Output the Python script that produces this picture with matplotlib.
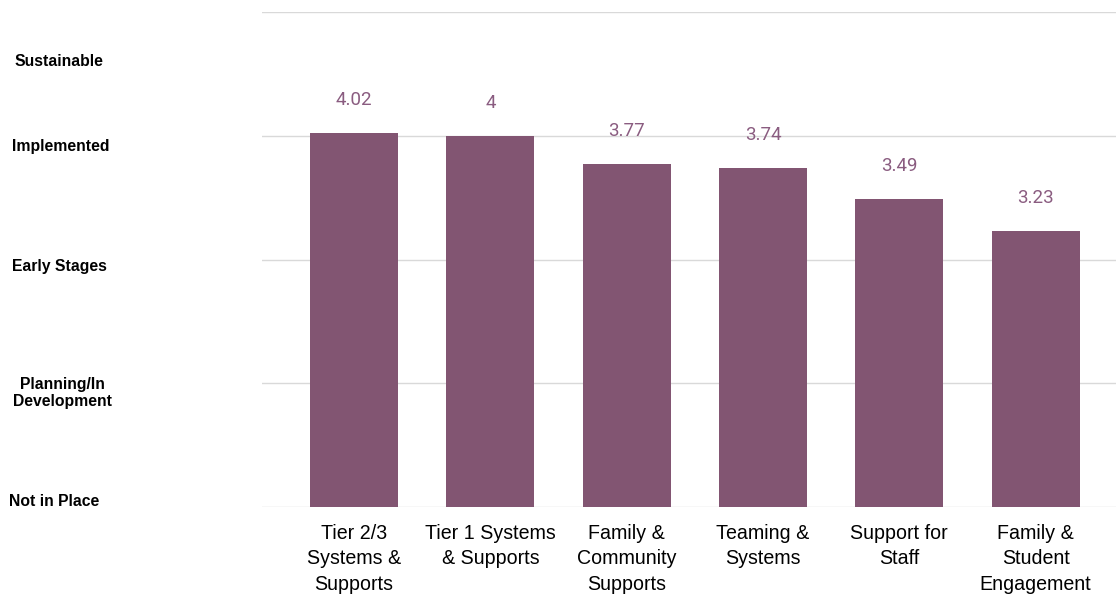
import matplotlib.pyplot as plt

categories = [
    "Tier 2/3\nSystems &\nSupports",
    "Tier 1 Systems\n& Supports",
    "Family &\nCommunity\nSupports",
    "Teaming &\nSystems",
    "Support for\nStaff",
    "Family &\nStudent\nEngagement",
]
scores = [4.02, 4, 3.77, 3.74, 3.49, 3.23]
score_labels = ["4.02", "4", "3.77", "3.74", "3.49", "3.23"]

# rubric levels shown down the left side
levels = ["Sustainable", "Implemented", "Early Stages", "Planning/In\nDevelopment", "Not in Place"]
level_pos = [(59, 62), (61, 147), (59, 266), (62, 393), (54, 502)]  # pixel centres

bar_color = "#825572"
label_color = "#8a5c80"

fig = plt.figure(figsize=(11.16, 5.95), dpi=100)
ax = fig.add_axes([262 / 1116, 88 / 595, 1 - 262 / 1116, (507 - 12) / 595])

x = range(len(categories))
bars = ax.bar(x, scores, width=0.645, bottom=0, color=bar_color, zorder=3)
ax.set_ylim(1, 5)
ax.set_xlim(-0.675, 5.59)
ax.set_yticks([1, 2, 3, 4, 5])
ax.yaxis.grid(True, color="#d9d9d9", linewidth=1, zorder=0)
ax.tick_params(axis="y", left=False, labelleft=False)
ax.tick_params(axis="x", bottom=False, pad=8.5)
for s in ax.spines.values():
    s.set_visible(False)

ax.set_xticks(list(x))
ax.set_xticklabels(categories, fontsize=14.1, family="Liberation Sans",
                   linespacing=1.43, va="top")

for xi, v, lab in zip(x, scores, score_labels):
    ax.annotate(lab, (xi, v), xytext=(0, 23.8), textcoords="offset points",
                ha="center", va="center", fontsize=13.5, family="Roboto",
                color=label_color)

for text, (px, py) in zip(levels, level_pos):
    fig.text(px / 1116, 1 - py / 595, text, ha="center", va="center",
             fontsize=11.3, fontweight="bold", family="Liberation Sans",
             linespacing=1.15)

fig.savefig("out.png", dpi=100)
